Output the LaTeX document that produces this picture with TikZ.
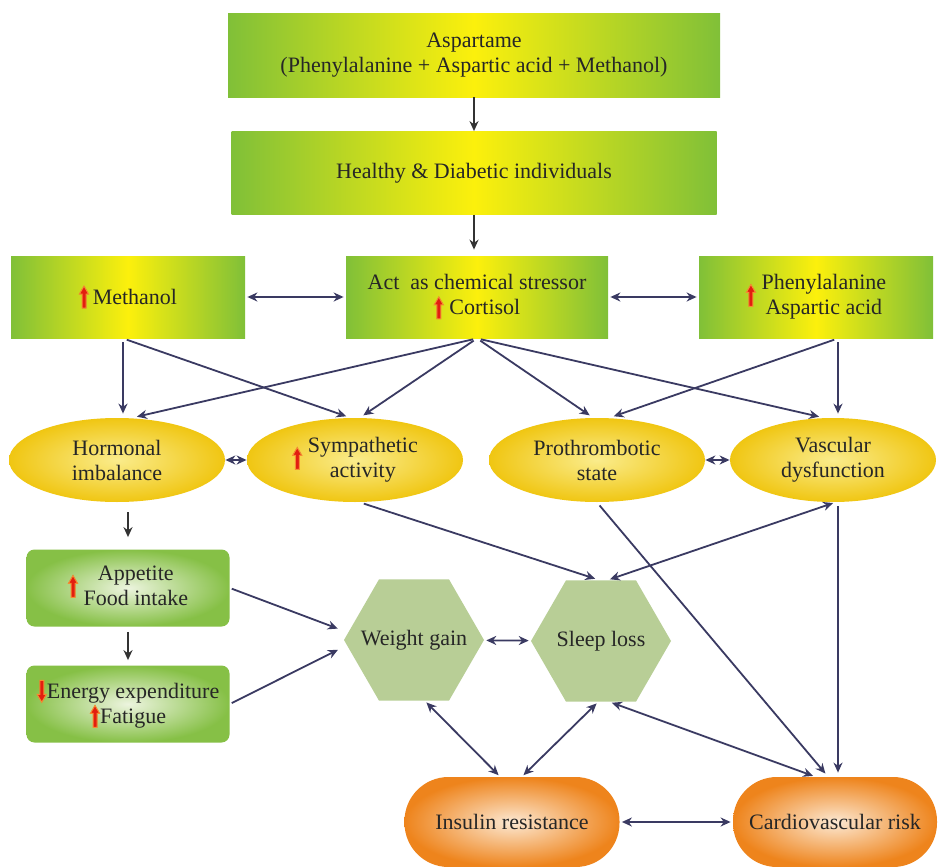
\documentclass[tikz,border=0pt]{standalone}
\usepackage{fontspec}
\setmainfont{Liberation Serif}
\usetikzlibrary{shapes.geometric,calc,arrows.meta}
\definecolor{boxgreen}{RGB}{128,192,56}
\definecolor{boxyellow}{RGB}{252,240,12}
\definecolor{ovalgold}{RGB}{240,198,18}
\definecolor{ovallight}{RGB}{250,236,140}
\definecolor{leafgreen}{RGB}{134,192,70}
\definecolor{leaflight}{RGB}{236,244,222}
\definecolor{hexgreen}{RGB}{184,206,150}
\definecolor{pillorange}{RGB}{238,132,28}
\definecolor{pilllight}{RGB}{252,232,210}
\definecolor{linkblue}{RGB}{58,58,98}
\definecolor{markred}{RGB}{226,30,16}
\definecolor{markglow}{RGB}{246,140,50}
\newcommand{\uparr}{\tikz[baseline=0pt]\filldraw[sharp corners,top color=markred,bottom color=markred,draw=markglow,line width=0.5pt] (-1pt,-2pt) -- (1pt,-2pt) -- (1pt,5pt) -- (2.3pt,5pt) -- (0pt,9pt) -- (-2.3pt,5pt) -- (-1pt,5pt) -- cycle;}
\newcommand{\downarr}{\tikz[baseline=0pt]\filldraw[sharp corners,top color=markred,bottom color=markred,draw=markglow,line width=0.5pt] (-1pt,9pt) -- (1pt,9pt) -- (1pt,2pt) -- (2.3pt,2pt) -- (0pt,-2pt) -- (-2.3pt,2pt) -- (-1pt,2pt) -- cycle;}
\begin{document}
\begin{tikzpicture}
[
    x=0.5pt, y=-0.5pt,
    font=\fontsize{11}{12.5}\selectfont,
    gradbox/.style={rectangle, left color=boxgreen, right color=boxgreen, middle color=boxyellow, text=black!85, align=center, inner sep=2pt},
    oval/.style={ellipse, inner color=ovallight, outer color=ovalgold, text=black!85, align=center, minimum width=108pt, minimum height=42pt, inner sep=1pt},
    leafbox/.style={rectangle, rounded corners=4pt, inner color=leaflight, outer color=leafgreen, text=black!85, align=center, minimum width=101.5pt, minimum height=38.5pt},
    hexa/.style={regular polygon, regular polygon sides=6, fill=hexgreen, minimum size=70pt, inner sep=-12pt, text=black!85},
    pill/.style={rectangle, rounded corners=22pt, inner color=pilllight, outer color=pillorange, text=black!85, minimum height=45pt},
    link/.style={draw=linkblue, line width=0.9pt, -{Stealth[length=5pt,width=4.5pt]}, shorten >=2pt, shorten <=2pt},
    twoway/.style={link, {Stealth[length=5pt,width=4.5pt]}-{Stealth[length=5pt,width=4.5pt]}, shorten >=1pt, shorten <=1pt},
    drop/.style={link, draw=black!80, shorten >=0pt, shorten <=0pt},
]
\fill[white] (0,0) rectangle (938,867);
\node[gradbox, minimum width=246pt, minimum height=42pt] (asp) at (474,55)
{Aspartame\\(Phenylalanine + Aspartic acid + Methanol)};
\node[gradbox, minimum width=242.5pt, minimum height=41.5pt] (hd) at (474,173)
{Healthy \& Diabetic individuals};
\node[gradbox, minimum width=117pt, minimum height=41pt] (meth) at (128,297)
{\uparr\,Methanol};
\node[gradbox, minimum width=131pt, minimum height=41pt] (act) at (477,297)
{Act\ \ as chemical stressor\\\uparr\ Cortisol};
\node[gradbox, minimum width=117pt, minimum height=41pt] (phen) at (816,297)
{\uparr\ \begin{tabular}{@{}c@{}}Phenylalanine\\Aspartic acid\end{tabular}};
\node[oval] (horm) at (117,460)
{Hormonal\\imbalance};
\node[oval] (symp) at (355,460)
{\uparr\ \begin{tabular}{@{}c@{}}Sympathetic\\activity\end{tabular}};
\node[oval] (proth) at (597,460)
{Prothrombotic\\state};
\node[oval, minimum width=103pt] (vasc) at (833,460)
{Vascular\\dysfunction};
\node[leafbox] (app) at (128,588)
{\uparr\ \begin{tabular}{@{}c@{}}Appetite\\Food intake\end{tabular}};
\node[leafbox] (energy) at (128,704)
{\downarr Energy expenditure\\\uparr Fatigue};
\node[hexa] (wg) at (414,640)
{Weight gain};
\node[hexa] (sl) at (601,641)
{Sleep loss};
\node[pill, minimum width=107.5pt] (ins) at (512,822)
{Insulin resistance};
\node[pill, minimum width=102pt] (cardio) at (835,822)
{Cardiovascular risk};
\draw[drop] (asp) -- (hd);
\draw[drop, shorten >=3pt] (hd.south) -- (hd.south |- act.north);
\draw[twoway] (meth) -- (act);
\draw[twoway] (act) -- (phen);
\draw[link] ($(meth.south)+(-5,0)$) -- ($(horm.north)+(6,0)$);
\draw[link] ($(meth.south)+(-5,0)$) -- ($(symp.north)+(-5,0)$);
\draw[link] (act.south) -- ($(horm.north)+(16,0)$);
\draw[link] (act.south) -- ($(symp.north)+(5,0)$);
\draw[link] (act.south) -- ($(proth.north)+(-4,0)$);
\draw[link] (act.south) -- ($(vasc.north)+(-10,0)$);
\draw[link] ($(phen.south)+(22,0)$) -- ($(proth.north)+(13,0)$);
\draw[link] ($(phen.south)+(22,0)$) -- ($(vasc.north)+(5,0)$);
\draw[twoway, shorten >=0pt, shorten <=0pt] (horm) -- (symp);
\draw[twoway, shorten >=0pt, shorten <=0pt] (proth) -- (vasc);
\draw[drop, shorten <=5pt, shorten >=6pt] (horm.south -| app.north) -- (app.north);
\draw[drop, shorten <=2.5pt, shorten >=2.5pt] (app) -- (energy);
\draw[link, shorten <=1pt] (app.east) -- ($(wg.west)+(-2,-10)$);
\draw[link, shorten <=1pt] (energy.east) -- ($(wg.west)+(-2,8)$);
\draw[twoway] (wg) -- (sl);
\draw[link] ($(symp.south)+(5,0)$) -- ($(sl.north)+(-2,0)$);
\draw[twoway] ($(vasc.south)+(2,0)$) -- ($(sl.north)+(7,0)$);
\draw[link] ($(vasc.south)+(5,0)$) -- ($(cardio.north)+(3,0)$);
\draw[link] (proth.south) -- ($(cardio.north)+(-7,0)$);
\draw[twoway] ($(sl.south)+(9,0)$) -- ($(cardio.north)+(-20,0)$);
\draw[twoway] ($(sl.south)+(-3,0)$) -- ($(ins.north)+(10,0)$);
\draw[twoway] ($(wg.south)+(11,0)$) -- ($(ins.north)+(-12,0)$);
\draw[twoway] (ins) -- (cardio);
\end{tikzpicture}
\end{document}
